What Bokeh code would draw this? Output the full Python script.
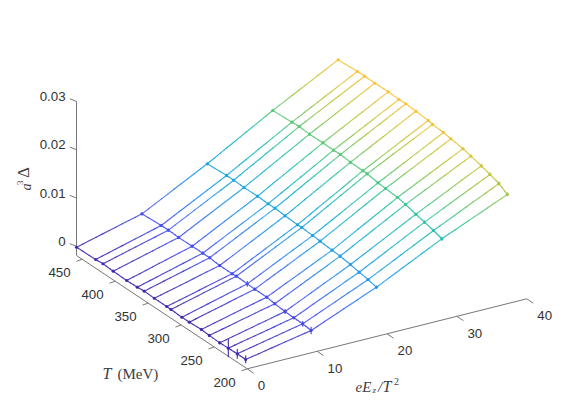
from bokeh.plotting import figure
from bokeh.models import Range1d
from bokeh.embed import file_html
from bokeh.resources import INLINE
from bokeh.core.properties import value
import numpy as np

# --- data ---
temps = [458.6, 429.5, 418.5, 403, 382.6, 366.5, 356, 340.8, 322, 315.5, 299, 287.7, 269.5, 257.4, 241.7, 228.6, 215, 202.3]
fields = [0, 9.36, 18.71, 28.07, 37.43]
# a^3 Delta in units of 1e-4, one list per field value
z_e0 = [-1.8, -0.8, 0.3, -1, -1.8, -1, 0.3, -0.6, -0.6, -1, -2, -2, -0.6, -2, -3, -2.2, -1.6, -1.8]
z_e1 = [33.4, 35.7, 36, 34.9, 35.3, 35.5, 35.5, 33.2, 33.2, 34.1, 33.2, 32.4, 32.4, 29.7, 27.9, 26.8, 26.6, 24.3]
z_e2 = [103.1, 105.4, 105.6, 104.5, 105, 103.9, 104.3, 102.3, 100.8, 101, 99.4, 97.9, 95.8, 94.4, 91.3, 87.3, 84.4, 80.1]
z_e3 = [179.6, 181.8, 182.9, 181, 181.6, 181, 181.6, 179.3, 178.7, 178.3, 174.6, 173.1, 171.1, 167.5, 161.5, 157, 152, 146.4]
z_e4 = [250.6, 252.9, 253.1, 252.7, 253.3, 252.1, 252.7, 251, 249, 246.5, 244.8, 242.1, 238, 233.7, 227.9, 221.9, 215.4, 204.3]
# error half-widths, same units
err_e0 = [1, 1, 1, 1, 1, 1, 1, 1, 1, 1, 1, 1, 2, 3, 3, 19, 10, 8]
err_e1 = [3, 3, 3, 3, 3, 3, 3, 3, 3, 3, 6, 3, 3, 3, 5, 3, 6, 8]
err_e2 = [2, 2, 2, 2, 2, 2, 2, 2, 2, 2, 3, 3, 3, 3, 3, 3, 3, 3]
err_e3 = [3, 3, 3, 3, 3, 3, 3, 3, 3, 3, 3, 3, 3, 3, 3, 3, 3, 4]
err_e4 = [2, 2, 2, 2, 2, 2, 2, 2, 2, 2, 2, 2, 3, 3, 4, 4, 4, 4]
z_ticks = [0, 0.01, 0.02, 0.03]
z_tick_labels = ["0", "0.01", "0.02", "0.03"]
t_ticks = [200, 250, 300, 350, 400, 450]
e_ticks = [0, 10, 20, 30, 40]

Z = np.array([z_e0, z_e1, z_e2, z_e3, z_e4]) * 1e-4
ERR = np.array([err_e0, err_e1, err_e2, err_e3, err_e4]) * 1e-4
E_LIM = (0, 40)
T_LIM = (200, 458.6)
Z_LIM = (-0.0019, 0.03)
C_LIM = (-0.0005, 0.034)


def project(e, t, z):
    """Orthographic view of the 3-D box onto the page."""
    e, t, z = np.asarray(e, float), np.asarray(t, float), np.asarray(z, float)
    x = 246.7 + 6.99 * e - 0.66 * (t - T_LIM[0])
    y = 368.3 - 1.75 * e - 0.438 * (t - T_LIM[0]) - 4830 * (z - Z_LIM[0])
    return x, y


stops = np.array([
    [.2422, .1504, .6603], [.2810, .3228, .9579], [.1540, .5902, .9218], [.0689, .6948, .8394],
    [.2161, .7843, .5923], [.6720, .7793, .2227], [.9970, .7659, .2199], [.9626, .8705, .1309], [.9769, .9839, .0805]])


def parula(z):
    f = np.clip((z - C_LIM[0]) / (C_LIM[1] - C_LIM[0]), 0, 1)
    pos = np.linspace(0, 1, len(stops))
    rgb = [np.interp(f, pos, stops[:, k]) for k in range(3)]
    return "#%02x%02x%02x" % tuple(int(round(c * 255)) for c in rgb)


p = figure(width=565, height=399, output_backend="svg", toolbar_location=None,
           x_range=Range1d(0, 565), y_range=Range1d(399, 0), min_border=0)
p.axis.visible = False
p.grid.visible = False
p.outline_line_color = None
p.background_fill_color = "white"

# --- box axes ---
AX = "#777777"
TXT = "#333333"
FONT = value("Liberation Sans")
cx, cy = project(0, T_LIM[0], Z_LIM[0])
ax_x, ax_y = project(E_LIM[1], T_LIM[0], Z_LIM[0])
bx, by = project(0, T_LIM[1], Z_LIM[0])
tx, ty = project(0, T_LIM[1], Z_LIM[1])
p.line([float(ax_x), float(cx), float(bx), float(tx)], [float(ax_y), float(cy), float(by), float(ty)],
       line_color=AX, line_width=1)

zx, zy = project(np.zeros(4), np.full(4, T_LIM[1]), z_ticks)
p.segment(zx - 6.7, zy - 2.7, zx, zy, line_color=AX, line_width=1)
p.text(zx - 11, zy - 5, text=z_tick_labels, text_align="right", text_baseline="middle",
       text_font=FONT, text_font_size="13.3px", text_color=TXT)

tkx, tky = project(np.zeros(6), t_ticks, np.full(6, Z_LIM[0]))
p.segment(tkx - 5.7, tky + 2, tkx, tky, line_color=AX, line_width=1)
p.text(tkx - 22.7, tky + 13.5, text=[str(t) for t in t_ticks], text_align="center", text_baseline="middle",
       text_font=FONT, text_font_size="13.3px", text_color=TXT)

ekx, eky = project(e_ticks, np.full(5, T_LIM[0]), np.full(5, Z_LIM[0]))
p.segment(ekx, eky, ekx + 6.5, eky + 4.4, line_color=AX, line_width=1)
p.text(ekx + 10.5, eky + 17, text=[str(e) for e in e_ticks], text_align="left", text_baseline="middle",
       text_font=FONT, text_font_size="13.3px", text_color=TXT)

# --- mesh: gradient edges ---
xs, ys, cols = [], [], []


def add_edge(e0, t0, z0, e1, t1, z1, n=10):
    f = np.linspace(0, 1, n + 1)
    e, t, z = e0 + (e1 - e0) * f, t0 + (t1 - t0) * f, z0 + (z1 - z0) * f
    x, y = project(e, t, z)
    for k in range(n):
        xs.append([float(x[k]), float(x[k + 1])])
        ys.append([float(y[k]), float(y[k + 1])])
        cols.append(parula((z[k] + z[k + 1]) / 2))


for i in range(Z.shape[1]):
    for j in range(Z.shape[0] - 1):
        add_edge(fields[j], temps[i], Z[j, i], fields[j + 1], temps[i], Z[j + 1, i])
for j in range(Z.shape[0]):
    for i in range(Z.shape[1] - 1):
        add_edge(fields[j], temps[i], Z[j, i], fields[j], temps[i + 1], Z[j, i + 1], n=3)
p.multi_line(xs, ys, line_color=cols, line_width=1.15, line_alpha=0.9, line_cap="round", line_join="round")

# --- nodes and error bars ---
EE, TT = np.meshgrid(fields, temps, indexing="ij")
nx, ny = project(EE.ravel(), TT.ravel(), Z.ravel())
ncol = [parula(v) for v in Z.ravel()]
_, ylo = project(EE.ravel(), TT.ravel(), (Z - ERR).ravel())
_, yhi = project(EE.ravel(), TT.ravel(), (Z + ERR).ravel())
p.segment(nx, ylo, nx, yhi, line_color=ncol, line_width=1.1)
p.scatter(nx, ny, size=3.2, fill_color=ncol, line_color=None)

# --- axis titles ---
SERIF = value("Liberation Serif")
LAB = "#404040"


def lab(x, y, s, style="normal", size="14px", angle=0.0):
    p.text([x], [y], text=[s], text_font=SERIF, text_font_style=style, text_font_size=size,
           text_color=LAB, text_align="left", text_baseline="middle", angle=angle)


lab(102, 373, "T", "italic", "16px")
lab(117, 373, "(MeV)", "normal", "15px")
lab(355, 386, "eE", "italic", "15px")
lab(372, 389, "z", "italic", "9px")
lab(377.5, 386, "/", "italic", "15px")
lab(382, 386, "T", "italic", "16px")
lab(393.5, 381, "2", "normal", "10px")
lab(25.5, 190, "a", "italic", "14px", np.pi / 2)
lab(19, 184.5, "3", "normal", "9px", np.pi / 2)
lab(23, 177.5, "Δ", "normal", "17px", np.pi / 2)

open("out.html", "w").write(file_html(p, INLINE))
